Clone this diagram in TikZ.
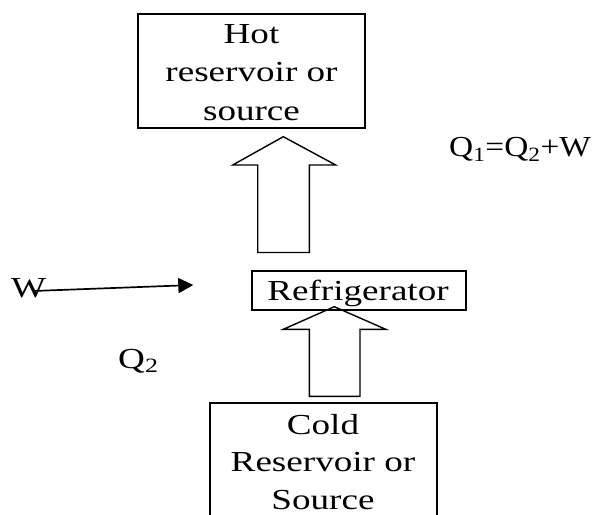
\documentclass[tikz,border=0pt]{standalone}
\usepackage{fontspec}
\setmainfont[FakeStretch=1.28]{Liberation Serif}
\newfontfamily\eqnfont[FakeStretch=1.15]{Liberation Serif}
\usetikzlibrary{arrows.meta}
\begin{document}
\begin{tikzpicture}[x=1pt,y=-1pt,
  box/.style={draw, line width=1.8pt, inner sep=0pt},
  txt/.style={font=\fontsize{29}{36}\selectfont, anchor=base, inner sep=0pt},
  blockarr/.style={draw, line width=1.4pt, line join=miter},
  workarrow/.style={line width=1.7pt, -{Triangle[length=15pt,width=15pt]}}]
\useasboundingbox (0,0) rectangle (596,514);
% boxes
\node[box, minimum width=227.3pt, minimum height=113.7pt] (hot) at (251.35,70.85) {};
\node[box, minimum width=214.3pt, minimum height=39pt] (fridge) at (358.85,290.5) {};
\node[box, minimum width=226.7pt, minimum height=130pt] (cold) at (323.35,468) {};
% box texts
\node[txt] (hot1) at (251.5,43.3) {Hot};
\node[txt] (hot2) at (251.5,81.7) {reservoir or};
\node[txt] (hot3) at (251.5,120) {source};
\node[txt] (fridgetxt) at (358,300) {Refrigerator};
\node[txt] (cold1) at (323,434) {Cold};
\node[txt] (cold2) at (323,471.3) {Reservoir or};
\node[txt] (cold3) at (323,509) {Source};
% labels
\node[txt, anchor=base west] (Wlbl) at (11,297.7) {W};
\node[txt, anchor=base west] (Q2lbl) at (118,368) {Q\textsubscript{2}};
\node[txt, anchor=base west, font=\fontsize{29}{36}\eqnfont] (Q1lbl) at (449,156.7) {Q\textsubscript{1}=Q\textsubscript{2}+W};
% work arrow
\coordinate (wstart) at (33,291);
\coordinate (wend) at (193.3,285);
\draw[workarrow] (wstart) -- (wend);
% block arrows
\draw[blockarr] (283.3,136.7) -- (335.7,165) -- (309.3,165) -- (309.3,252.5)
  -- (257.7,252.5) -- (257.7,165) -- (232.7,165) -- cycle;
\draw[blockarr] (334.3,306.7) -- (385.7,329.3) -- (360,329.3) -- (360,396.3)
  -- (309.3,396.3) -- (309.3,329.3) -- (283.3,329.3) -- cycle;
\end{tikzpicture}
\end{document}
